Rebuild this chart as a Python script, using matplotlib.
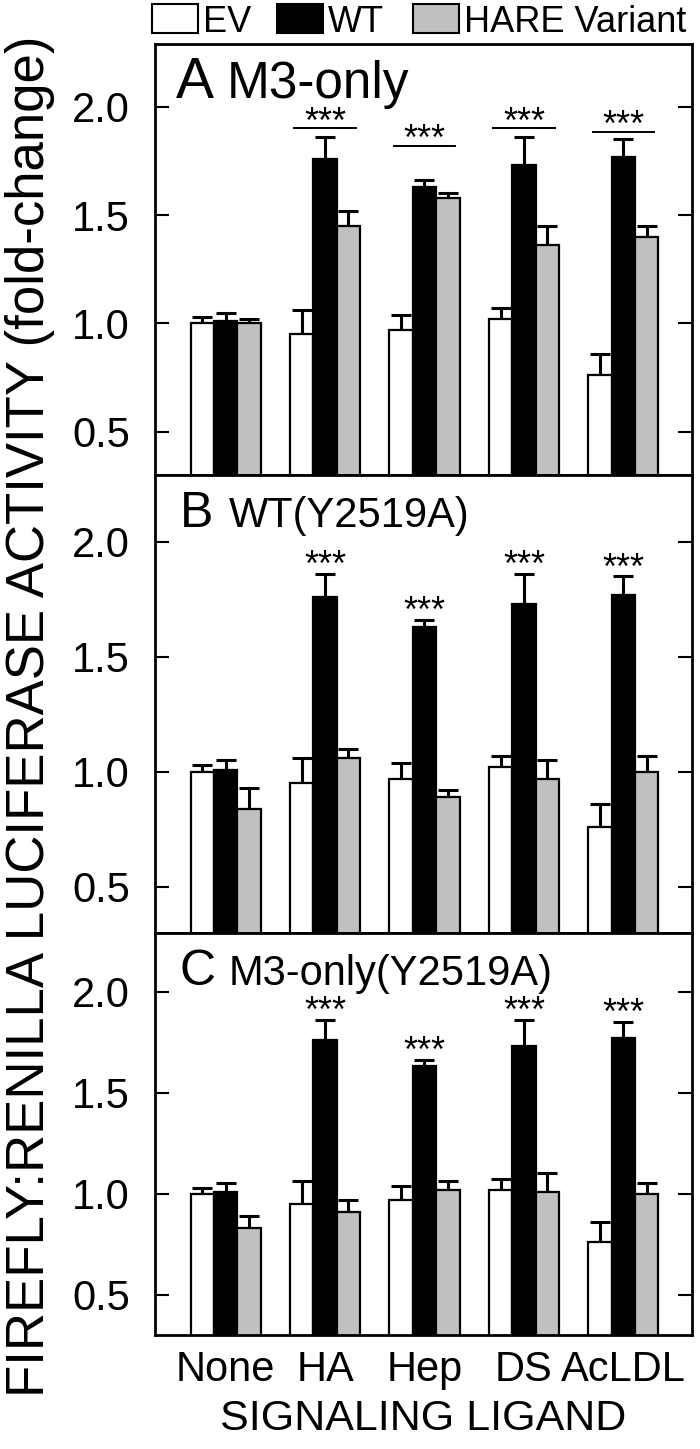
import matplotlib
matplotlib.use("Agg")
import matplotlib.pyplot as plt
import numpy as np
from matplotlib.patches import Rectangle

plt.rcParams['font.family'] = ['Liberation Sans', 'DejaVu Sans']

# datos
ligands = ["None", "HA", "Hep", "DS", "AcLDL"]
ev = [1.00, 0.95, 0.97, 1.02, 0.76]
ev_err = [0.03, 0.11, 0.07, 0.05, 0.10]
wt = [1.01, 1.76, 1.63, 1.73, 1.77]
wt_err = [0.04, 0.10, 0.03, 0.13, 0.08]

hare_a = [1.00, 1.45, 1.58, 1.36, 1.40]
hare_a_err = [0.02, 0.07, 0.02, 0.09, 0.05]
hare_b = [0.84, 1.06, 0.89, 0.97, 1.00]
hare_b_err = [0.09, 0.04, 0.03, 0.08, 0.07]
hare_c = [0.83, 0.91, 1.02, 1.01, 1.00]
hare_c_err = [0.06, 0.06, 0.04, 0.09, 0.05]

sig_a = [None, 1.90, 1.82, 1.90, 1.885]   # altura de la linea de significancia
panel_letters = ["A", "B", "C"]
panel_names = ["M3-only", "WT(Y2519A)", "M3-only(Y2519A)"]
legend_labels = ["EV", "WT", "HARE Variant"]
colors = ["white", "black", "#c0c0c0"]

W, H = 700, 1449
L, R = 155, 692


def px(l, t, r, b):
    return [l / W, 1 - b / H, (r - l) / W, (b - t) / H]


fig = plt.figure(figsize=(W / 100, H / 100), dpi=100)

boxes = [(44, 475), (475, 933), (933, 1335)]
hares = [(hare_a, hare_a_err), (hare_b, hare_b_err), (hare_c, hare_c_err)]
x = np.arange(len(ligands))
bw = 0.235

for k, (t, b) in enumerate(boxes):
    ax = fig.add_axes(px(L, t, R, b))
    hv, he = hares[k]
    series = [(ev, ev_err), (wt, wt_err), (hv, he)]
    for j, (vals, errs) in enumerate(series):
        xs = x + (j - 1) * bw
        ax.bar(xs, vals, bw, color=colors[j], edgecolor="black", linewidth=1.6, zorder=2)
        ax.errorbar(xs, vals, yerr=[np.zeros(len(vals)), errs], fmt="none",
                    ecolor="black", elinewidth=2.2, capsize=7, capthick=2.2, zorder=1)

    # asteriscos
    for i in range(1, len(ligands)):
        if k == 0:
            y = sig_a[i]
            ax.plot([x[i] - 0.31, x[i] + 0.31], [y, y], color="black", lw=1.4)
            ax.text(x[i], y - 0.02, "***", ha="center", va="baseline", fontsize=26)
        else:
            y = wt[i] + wt_err[i] - 0.01
            ax.text(x[i], y, "***", ha="center", va="baseline", fontsize=26)

    # titulo de cada panel
    hpx = b - t
    wpx = R - L
    if k == 0:
        ax.text(21 / wpx, 1 - 54 / hpx, panel_letters[k], transform=ax.transAxes,
                fontsize=41, va="baseline", ha="left")
        ax.text(72 / wpx, 1 - 54 / hpx, panel_names[k], transform=ax.transAxes,
                fontsize=37, va="baseline", ha="left")
    else:
        ax.text(25 / wpx, 1 - 52 / hpx, panel_letters[k], transform=ax.transAxes,
                fontsize=36, va="baseline", ha="left")
        ax.text(74 / wpx, 1 - 52 / hpx, panel_names[k], transform=ax.transAxes,
                fontsize=30, va="baseline", ha="left")

    ax.set_xlim(-0.71, 4.69)
    ax.set_ylim(0.30, 2.29)
    ax.set_yticks([0.5, 1.0, 1.5, 2.0])
    ax.set_yticklabels(["0.5", "1.0", "1.5", "2.0"])
    ax.tick_params(axis="y", direction="in", length=10, width=1.5, labelsize=30,
                   right=True, pad=18)
    if k == 2:
        ax.set_xticks(x)
        ax.set_xticklabels(ligands, fontsize=30)
        ax.tick_params(axis="x", length=0, pad=11)
        ax.set_xlabel("SIGNALING LIGAND", fontsize=31, labelpad=6)
    else:
        ax.set_xticks([])
    for s in ax.spines.values():
        s.set_linewidth(2)

fig.text(30 / W, 1 - 716 / H,
         "FIREFLY:RENILLA LUCIFERASE ACTIVITY (fold-change)",
         rotation=90, ha="center", va="center", fontsize=38)

# leyenda hecha a mano
leg_box_x = [152, 277, 413]
for lx, lab, col in zip(leg_box_x, legend_labels, colors):
    fig.patches.append(Rectangle((lx / W, 1 - 33 / H), 46 / W, 29 / H,
                                 transform=fig.transFigure, facecolor=col,
                                 edgecolor="black", linewidth=1.5))
    fig.text((lx + 51) / W, 1 - 32 / H, lab, fontsize=26, va="baseline", ha="left")

fig.savefig("out.png", dpi=100)
